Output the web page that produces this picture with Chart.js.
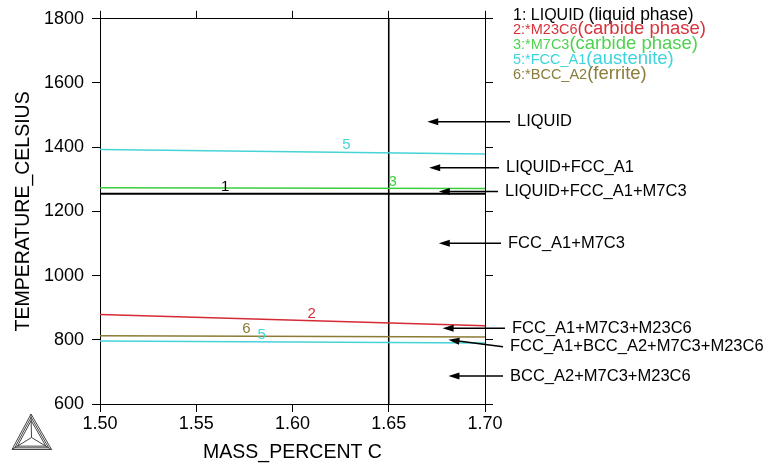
<!DOCTYPE html>
<html>
<head>
<meta charset="utf-8">
<title>Isopleth section</title>
<script src="https://cdn.jsdelivr.net/npm/chart.js@4/dist/chart.umd.min.js"></script>
<style>
  body { margin: 0; background: #fff; }
  canvas { display: block; }
</style>
</head>
<body>
<canvas id="phaseChart" width="769" height="468"></canvas>
<script>
// values
const massTicks = [1.50, 1.55, 1.60, 1.65, 1.70];
const tempTicks = [600, 800, 1000, 1200, 1400, 1600, 1800];

const massPercent = [1.50, 1.70];
const liquidLine = [1255, 1255];     // 1
const m23c6Line = [879, 844];        // 2
const m7c3Line = [1274, 1271];       // 3
const fccUpperLine = [1393, 1379];   // 5
const bccLine = [813, 809];          // 6
const fccLowerLine = [796, 790];     // 5 (lower)
const sectionMass = 1.65;

const curveTags = ['1', '2', '3', '5', '6', '5'];
const curveTagMass = [1.565, 1.610, 1.652, 1.628, 1.576, 1.584];

const legendNames = ['1: LIQUID', '2:*M23C6', '3:*M7C3', '5:*FCC_A1', '6:*BCC_A2'];
const legendNotes = ['(liquid phase)', '(carbide phase)', '(carbide phase)', '(austenite)', '(ferrite)'];

const regionNames = ['LIQUID', 'LIQUID+FCC_A1', 'LIQUID+FCC_A1+M7C3', 'FCC_A1+M7C3',
  'FCC_A1+M7C3+M23C6', 'FCC_A1+BCC_A2+M7C3+M23C6', 'BCC_A2+M7C3+M23C6'];
const regionMass = [1.670, 1.671, 1.676, 1.676, 1.678, 1.681, 1.681];
const regionTemp = [1479, 1336, 1262, 1101, 836, 800, 687];
const regionTextTemp = [1479, 1336, 1262, 1101, 836, 778, 687];

// styling
const FONT = 'Liberation Sans';
const lineColors = ['#000000', '#d42a35', '#3ccf3c', '#45d3d8', '#8b7b35', '#45d3d8'];
const legendColors = ['#000000', '#d8323c', '#4fd24f', '#3fd4dc', '#8c7d3a'];
const legendBaselines = [20, 34, 48.5, 63.5, 79];
const regionTextDx = [32, 21, 20, 23, 27, 25, 25];

function pts(ys) {
    return massPercent.map((c, i) => ({ x: c, y: ys[i] }));
}

const curves = [liquidLine, m23c6Line, m7c3Line, fccUpperLine, bccLine, fccLowerLine];
const datasets = curves.map((ys, i) => ({
    data: pts(ys),
    borderColor: lineColors[i],
    borderWidth: i === 0 ? 2 : 1.5,
    tag: curveTags[i],
    tagAt: curveTagMass[i]
}));
datasets.push({
    data: [{ x: sectionMass, y: tempTicks[0] }, { x: sectionMass, y: tempTicks[tempTicks.length - 1] }],
    borderColor: '#000',
    borderWidth: 1.6
});

// curve numbers, region arrows, legend text and the logo
const overlay = {
    id: 'overlay',
    afterDatasetsDraw(chart) {
        const { ctx, chartArea, scales: { x, y } } = chart;
        ctx.save();

        ctx.font = '15px "' + FONT + '"';
        ctx.textAlign = 'center';
        ctx.textBaseline = 'middle';
        chart.data.datasets.forEach(ds => {
            if (!ds.tag) return;
            const p0 = ds.data[0], p1 = ds.data[ds.data.length - 1];
            const t = p0.y + (p1.y - p0.y) * (ds.tagAt - p0.x) / (p1.x - p0.x);
            ctx.fillStyle = ds.borderColor;
            ctx.fillText(ds.tag, x.getPixelForValue(ds.tagAt), y.getPixelForValue(t) - 7);
        });

        ctx.fillStyle = '#000';
        ctx.strokeStyle = '#000';
        ctx.lineWidth = 1.5;
        ctx.textAlign = 'left';
        ctx.font = '16.5px "' + FONT + '"';
        regionNames.forEach((name, i) => {
            const hx = x.getPixelForValue(regionMass[i]);
            const hy = y.getPixelForValue(regionTemp[i]);
            const tx = chartArea.right + regionTextDx[i];
            const ty = y.getPixelForValue(regionTextTemp[i]);
            const sx = tx - 7;
            const ang = Math.atan2(ty - hy, sx - hx);
            const c = Math.cos(ang), s = Math.sin(ang);
            ctx.beginPath();
            ctx.moveTo(sx, ty);
            ctx.lineTo(hx + 8 * c, hy + 8 * s);
            ctx.stroke();
            ctx.beginPath();
            ctx.moveTo(hx, hy);
            ctx.lineTo(hx + 11 * c - 3.5 * s, hy + 11 * s + 3.5 * c);
            ctx.lineTo(hx + 11 * c + 3.5 * s, hy + 11 * s - 3.5 * c);
            ctx.closePath();
            ctx.fill();
            ctx.fillText(name, tx, ty);
        });

        ctx.textBaseline = 'alphabetic';
        legendNames.forEach((name, i) => {
            let lx = 513;
            ctx.fillStyle = legendColors[i];
            ctx.font = (i === 0 ? 16 : 14.5) + 'px "' + FONT + '"';
            ctx.fillText(name, lx, legendBaselines[i]);
            lx += ctx.measureText(name + (i === 0 ? ' ' : '')).width;
            ctx.font = (i === 0 ? 17.5 : 18.5) + 'px "' + FONT + '"';
            ctx.fillText(legendNotes[i], lx, legendBaselines[i]);
        });

        // Thermo-Calc logo
        const cx = 31.5, cy = 437.5;
        const apex = [[31, 414], [12, 449.5], [51.5, 449.5]];
        ctx.strokeStyle = '#444';
        ctx.lineWidth = 1;
        [1, 0.86, 0.72].forEach(k => {
            ctx.beginPath();
            apex.forEach((p, j) => {
                const px = cx + (p[0] - cx) * k, py = cy + (p[1] - cy) * k;
                if (j === 0) ctx.moveTo(px, py); else ctx.lineTo(px, py);
            });
            ctx.closePath();
            ctx.stroke();
        });
        ctx.beginPath();
        apex.forEach(p => {
            ctx.moveTo(cx, cy);
            ctx.lineTo(p[0], p[1]);
        });
        ctx.stroke();

        ctx.restore();
    }
};

const tickFont = { family: FONT, size: 18 };
const titleFont = { family: FONT, size: 19.5 };

function frameAxis(position, extra) {
    const horizontal = position === 'top' || position === 'bottom';
    const list = horizontal ? massTicks : tempTicks;
    return Object.assign({
        type: 'linear',
        position: position,
        min: list[0],
        max: list[list.length - 1],
        afterBuildTicks: s => { s.ticks = list.map(v => ({ value: v })); },
        grid: { drawOnChartArea: false, drawTicks: true, tickLength: 8, color: '#000', lineWidth: 1 },
        border: { display: true, color: '#000', width: 1 },
        ticks: { display: false }
    }, extra);
}

new Chart(document.getElementById('phaseChart'), {
    type: 'scatter',
    data: { datasets: datasets },
    options: {
        responsive: false,
        animation: false,
        showLine: true,
        elements: { point: { radius: 0, hoverRadius: 0 }, line: { tension: 0 } },
        layout: { padding: 0 },
        plugins: { legend: { display: false }, tooltip: { enabled: false } },
        scales: {
            x: frameAxis('bottom', {
                afterFit: s => { s.height = 64; },
                ticks: { display: true, color: '#000', font: tickFont, padding: 1, maxRotation: 0,
                    callback: v => v.toFixed(2) },
                title: { display: true, text: 'MASS_PERCENT C', color: '#000', font: titleFont,
                    padding: { top: 0, bottom: 4 } }
            }),
            x2: frameAxis('top', { afterFit: s => { s.height = 18; } }),
            y: frameAxis('left', {
                afterFit: s => { s.width = 100; },
                ticks: { display: true, color: '#000', font: tickFont, padding: 8,
                    callback: v => String(v) },
                title: { display: true, text: 'TEMPERATURE_CELSIUS', color: '#000', font: titleFont,
                    padding: { top: 12, bottom: 0 } }
            }),
            y2: frameAxis('right', { afterFit: s => { s.width = 284; } })
        }
    },
    plugins: [overlay]
});
</script>
</body>
</html>
